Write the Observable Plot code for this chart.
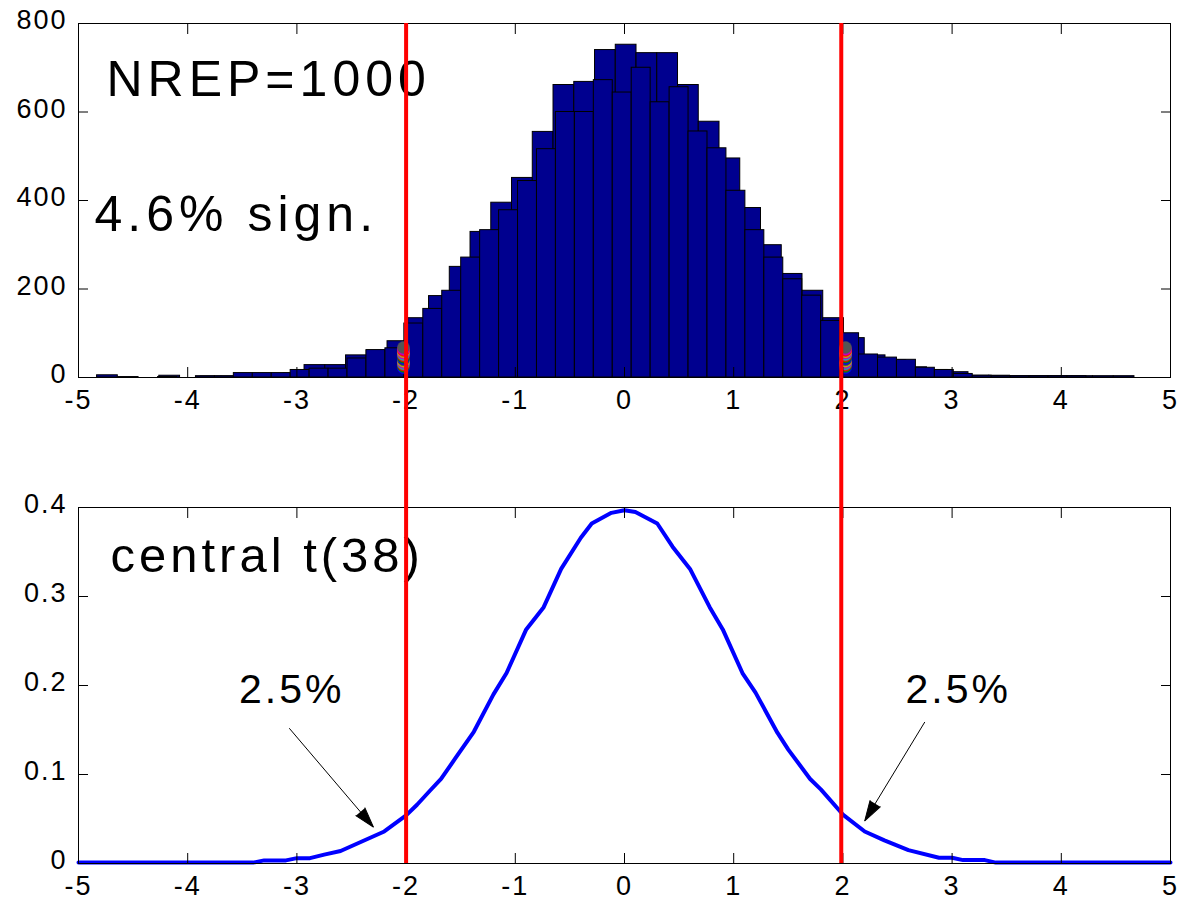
<!DOCTYPE html>
<html><head><meta charset="utf-8">
<script src="https://cdn.jsdelivr.net/npm/d3@7"></script>
<script src="https://cdn.jsdelivr.net/npm/@observablehq/plot@0.6"></script>
<style>
body{margin:0;background:#fff;}
#wrap{position:relative;width:1182px;height:900px;overflow:hidden;background:#fff;}
#wrap svg{position:absolute;left:0;}
</style></head><body><div id="wrap"></div>
<script>
// ---------- data ----------
const xTicks = [-5,-4,-3,-2,-1,0,1,2,3,4,5];
const xTickLabels = ["-5","-4","-3","-2","-1","0","1","2","3","4","5"];
const histYTicks = [0,200,400,600,800];
const histYTickLabels = ["0","200","400","600","800"];
const densYTicks = [0,0.1,0.2,0.3,0.4];
const densYTickLabels = ["0","0.1","0.2","0.3","0.4"];

// back histogram (50 bins)
const backStart = -4.83, backWidth = 0.19;
const backCounts = [5,1,0,4,0,2,2,8,8,9,28,28,50,60,82,134,184,250,329,395,451,555,661,668,740,752,733,733,661,578,495,383,299,234,196,134,89,50,39,23,17,12,4,4,3,3,3,3,3,3];
// front histogram (50 bins)
const frontStart = -4.445, frontWidth = 0.1735;
const frontCounts = [0,1,0,3,3,10,10,10,17,20,20,43,62,66,122,155,196,271,333,378,444,516,600,600,672,644,700,622,656,556,518,422,333,271,222,185,128,100,52,45,40,22,17,8,4,3,3,3,3,3];

// stacked markers at the critical values
const markerX = [-2.024, 2.024];
const markerCounts = [22,25,28,31,34,37,40,43,46,49,52,55,58,61,64,68];
const markerColors = ["#0000ff","#008000","#ff0000","#00bfbf","#bf00bf","#bfbf00","#404040","#0000ff","#008000","#ff0000","#00bfbf","#bf00bf","#bfbf00","#ff0000","#bf00bf","#555555"];

// red vertical lines
const critX = [-2.0, 1.985];

// density curve
const densX = [-5,-3.4,-3.3,-3.1,-3.0,-2.88,-2.75,-2.6,-2.4,-2.2,-2.0,-1.9,-1.78,-1.68,-1.55,-1.38,-1.2,-1.08,-0.9,-0.74,-0.58,-0.4,-0.3,-0.12,0,0.1,0.3,0.44,0.6,0.78,0.9,1.08,1.2,1.4,1.5,1.7,1.8,2.0,2.2,2.38,2.6,2.88,3.0,3.1,3.3,3.4,5];
const densY = [0.001,0.001,0.0035,0.0035,0.006,0.006,0.010,0.014,0.025,0.036,0.054,0.066,0.082,0.095,0.118,0.148,0.190,0.214,0.263,0.288,0.331,0.366,0.382,0.394,0.397,0.395,0.382,0.356,0.331,0.288,0.263,0.214,0.192,0.147,0.128,0.095,0.083,0.055,0.036,0.026,0.015,0.0065,0.0065,0.0038,0.0038,0.001,0.001];

// annotations
const arrowX1 = [-3.07, 2.75], arrowY1 = [0.152, 0.159];
const arrowX2 = [-2.30, 2.20], arrowY2 = [0.041, 0.048];
const pctLabels = ["2.5%","2.5%"];
const pctX = [-3.53, 2.573], pctY = [0.18, 0.18];

// ---------- build ----------
const FONT = "'Liberation Sans', Arial, Helvetica, sans-serif";
const W = 1182, ML = 78, MR = 12;
const BAR = "#00008F";

const backBins = backCounts.map((c,i)=>({x1: backStart+i*backWidth, x2: backStart+(i+1)*backWidth, y: c}));
const frontBins = frontCounts.map((c,i)=>({x1: frontStart+i*frontWidth, x2: frontStart+(i+1)*frontWidth, y: c}));
const markers = [];
for (const mx of markerX) markerCounts.forEach((c,i)=>markers.push({x: mx, y: c, color: markerColors[i]}));
const dens = densX.map((x,i)=>({x, y: densY[i]}));

function axes(ticksY, labelsY) {
  return [
    Plot.frame({stroke: "black", strokeWidth: 1}),
    Plot.axisX(xTicks, {anchor: "bottom", tickSize: 0, tickPadding: 12, fontSize: 27, tickFormat: (d) => xTickLabels[xTicks.indexOf(d)]}),
    Plot.axisX(xTicks, {anchor: "bottom", tickSize: -10, tickFormat: () => "", stroke: "black"}),
    Plot.axisX(xTicks, {anchor: "top", tickSize: -10, tickFormat: () => "", stroke: "black"}),
    Plot.axisY(ticksY, {anchor: "left", tickSize: 0, tickPadding: 11, fontSize: 27, dy: -3, tickFormat: (d) => labelsY[ticksY.indexOf(d)]}),
    Plot.axisY(ticksY, {anchor: "left", tickSize: -10, tickFormat: () => "", stroke: "black"}),
    Plot.axisY(ticksY, {anchor: "right", tickSize: -10, tickFormat: () => "", stroke: "black"})
  ];
}

const style = {fontFamily: FONT, background: "transparent", overflow: "visible", color: "black"};

const topPlot = Plot.plot({
  width: W, height: 420, marginLeft: ML, marginRight: MR, marginTop: 23, marginBottom: 43,
  style,
  x: {domain: [-5,5], label: null},
  y: {domain: [0,800], label: null},
  marks: [
    Plot.rectY(backBins, {x1: "x1", x2: "x2", y: "y", fill: BAR, stroke: "black", strokeWidth: 1}),
    Plot.rectY(frontBins, {x1: "x1", x2: "x2", y: "y", fill: BAR, stroke: "black", strokeWidth: 1}),
    Plot.dot(markers, {x: "x", y: "y", r: 6, fill: "color", stroke: "color", strokeWidth: 0.5}),
    ...axes(histYTicks, histYTickLabels),
    Plot.text(["NREP=1000"], {x: -4.744, y: 637, text: d => d, textAnchor: "start", lineAnchor: "bottom", fontSize: 50, fill: "black"}),
    Plot.text(["4.6% sign."], {x: -4.853, y: 330, text: d => d, textAnchor: "start", lineAnchor: "bottom", fontSize: 50, fill: "black"})
  ]
});
topPlot.style.top = "0px";

const bH = 460, bMT = 67, bMB = 37;
const kx = (W - ML - MR) / 10, ky = (bH - bMT - bMB) / 0.4;
const arrows = arrowX1.map((x1,i)=>({
  x1, y1: arrowY1[i], x2: arrowX2[i], y2: arrowY2[i],
  rot: Math.atan2((arrowX2[i]-x1)*kx, (arrowY2[i]-arrowY1[i])*ky) * 180 / Math.PI
}));
const pcts = pctLabels.map((t,i)=>({t, x: pctX[i], y: pctY[i]}));

const botPlot = Plot.plot({
  width: W, height: bH, marginLeft: ML, marginRight: MR, marginTop: bMT, marginBottom: bMB,
  style,
  x: {domain: [-5,5], label: null},
  y: {domain: [0,0.4], label: null},
  marks: [
    Plot.line(dens, {x: "x", y: "y", stroke: "#0000ff", strokeWidth: 4, strokeLinejoin: "round"}),
    Plot.link(arrows, {x1: "x1", y1: "y1", x2: "x2", y2: "y2", stroke: "black", strokeWidth: 1}),
    Plot.vector(arrows, {x: "x2", y: "y2", rotate: "rot", length: 20, r: 6, shape: "spike", anchor: "end", fill: "black", fillOpacity: 1, stroke: "black", strokeWidth: 1}),
    ...axes(densYTicks, densYTickLabels),
    Plot.text(["central t(38)"], {x: -4.707, y: 0.327, text: d => d, textAnchor: "start", lineAnchor: "bottom", fontSize: 49, fill: "black"}),
    Plot.text(pcts, {x: "x", y: "y", text: "t", textAnchor: "start", lineAnchor: "bottom", fontSize: 41, fill: "black"})
  ]
});
botPlot.style.top = "440px";

const overlay = Plot.plot({
  width: W, height: 900, marginLeft: ML, marginRight: MR, marginTop: 23, marginBottom: 37,
  style, axis: null,
  x: {domain: [-5,5]},
  marks: [Plot.ruleX(critX, {stroke: "#ff0000", strokeWidth: 4})]
});
overlay.style.top = "0px";
overlay.style.pointerEvents = "none";

// letter spacing like the original rendering
for (const svg of [topPlot, botPlot]) {
  d3.select(svg).selectAll("g[aria-label='text'] text").attr("letter-spacing", "5px");
  d3.select(svg).selectAll("g[aria-label$='tick label'] text").attr("letter-spacing", "2px");
}
d3.select(botPlot).selectAll("g[aria-label='text'] text").filter(function(){return this.textContent === "central t(38)";}).attr("letter-spacing", "4px");
d3.select(botPlot).selectAll("g[aria-label='text'] text").filter(function(){return this.textContent === "2.5%";}).attr("letter-spacing", "3px");

const wrap = document.getElementById("wrap");
wrap.appendChild(topPlot);
wrap.appendChild(botPlot);
wrap.appendChild(overlay);
</script>
</body></html>
